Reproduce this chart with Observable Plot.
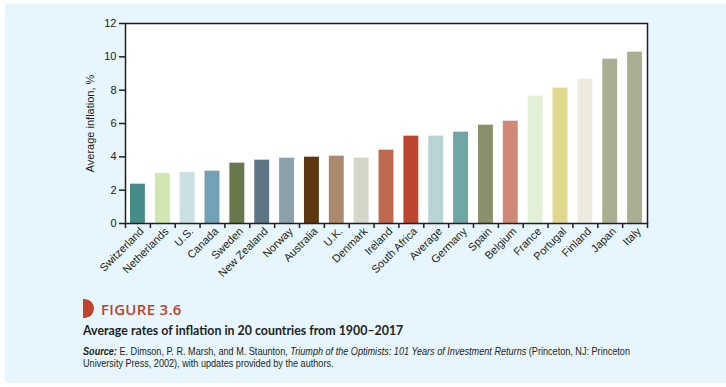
<!DOCTYPE html>
<html>
<head>
<meta charset="utf-8">
<script src="https://cdn.jsdelivr.net/npm/d3@7"></script>
<script src="https://cdn.jsdelivr.net/npm/@observablehq/plot@0.6"></script>
<style>
  html, body { margin: 0; padding: 0; background: #ffffff; }
  body { position: relative; width: 726px; height: 387px; overflow: hidden; font-family: "Liberation Sans", Arial, sans-serif; color: #231f20; }
  #panel { position: absolute; left: 5px; top: 4px; width: 721px; height: 379px; background: #e7f5fc; }
  #chart { position: absolute; left: 0; top: 0; }
  #figtitle { position: absolute; left: 78px; top: 295px; font-family: "Open Sans", sans-serif; font-weight: 600; font-size: 15px; letter-spacing: 0.3px; color: #c1432b; line-height: 20px; white-space: nowrap; }
  #icon { display: inline-block; width: 11px; height: 19px; background: #c1432b; border-radius: 0 10px 10px 0; vertical-align: top; margin-right: 7px; }
  #subtitle { position: absolute; left: 78px; top: 320px; font-family: "Lato", sans-serif; font-weight: 700; font-size: 12.4px; line-height: 14px; white-space: nowrap; color: #231f20; }
  .src { position: absolute; left: 78px; font-family: "Liberation Sans", Arial, sans-serif; font-size: 10.5px; line-height: 11.6px; white-space: nowrap; color: #231f20; transform-origin: 0 0; }
  #src1 { top: 342px; }
  #src2 { top: 353.6px; }
</style>
</head>
<body>
<div id="panel">
  <div id="chart"></div>
  <div id="figtitle"><span id="icon"></span>FIGURE 3.6</div>
  <div id="subtitle">Average rates of inflation in 20 countries from 1900–2017</div>
  <div class="src" id="src1"><b><i>Source:</i></b> E. Dimson, P. R. Marsh, and M. Staunton, <i>Triumph of the Optimists: 101 Years of Investment Returns</i> (Princeton, NJ: Princeton</div>
  <div class="src" id="src2">University Press, 2002), with updates provided by the authors.</div>
</div>
<script>
const countries = ["Switzerland","Netherlands","U.S.","Canada","Sweden","New Zealand","Norway","Australia","U.K.","Denmark","Ireland","South Africa","Average","Germany","Spain","Belgium","France","Portugal","Finland","Japan","Italy"];
const inflation = [2.36, 3.0, 3.06, 3.14, 3.62, 3.8, 3.92, 3.98, 4.04, 3.92, 4.4, 5.24, 5.24, 5.48, 5.9, 6.14, 7.64, 8.12, 8.66, 9.86, 10.28];
const barColors = ["#468c88","#d2e6b0","#cbe0e3","#72a0b5","#68784b","#5e7584","#8ca0ac","#5e360f","#ad8a6e","#d5d5c8","#bf6a50","#be4530","#b9d3d5","#6fa5a3","#8b8f6b","#cf8976","#e3efd6","#e0d88c","#edebe0","#abae93","#abae93"];
const yTicks = [0, 2, 4, 6, 8, 10, 12];

const data = countries.map((c, i) => ({country: c, i, value: inflation[i], color: barColors[i]}));
const ink = "#231f20";

const chart = Plot.plot({
  width: 721,
  height: 276,
  marginLeft: 120,
  marginRight: 79,
  marginTop: 19,
  marginBottom: 57,
  style: {background: "transparent", fontFamily: "'Liberation Sans', Arial, sans-serif", fontSize: "11px", color: ink},
  x: {domain: [0, countries.length], axis: null},
  y: {domain: [0, 12], axis: null},
  color: {type: "identity"},
  marks: [
    Plot.frame({fill: "white", stroke: "none"}),
    Plot.rectY(data, {x1: d => d.i + 0.2, x2: d => d.i + 0.8, y1: 0, y2: "value", fill: "color"}),
    Plot.axisY({ticks: yTicks, tickSize: 6, tickPadding: 3, stroke: ink, strokeWidth: 1.5, fill: ink,
      label: "Average inflation, %", labelAnchor: "center", labelArrow: "none", labelOffset: 39}),
    Plot.axisX({ticks: d3.range(countries.length + 1), tickFormat: () => "", tickSize: 5, stroke: ink, strokeWidth: 1.5, label: null}),
    Plot.axisX({ticks: data.map(d => d.i + 0.5), tickFormat: v => countries[Math.floor(v)], tickSize: 0, tickPadding: 6, tickRotate: -45, fill: ink, label: null, dx: 4}),
    Plot.frame({stroke: ink, strokeWidth: 1.5})
  ]
});
document.getElementById("chart").appendChild(chart);

// squeeze the source note horizontally to the condensed width of the original
const s1 = document.getElementById("src1"), s2 = document.getElementById("src2");
const k = 547 / s1.getBoundingClientRect().width;
s1.style.transform = s2.style.transform = `scaleX(${k})`;
</script>
</body>
</html>
